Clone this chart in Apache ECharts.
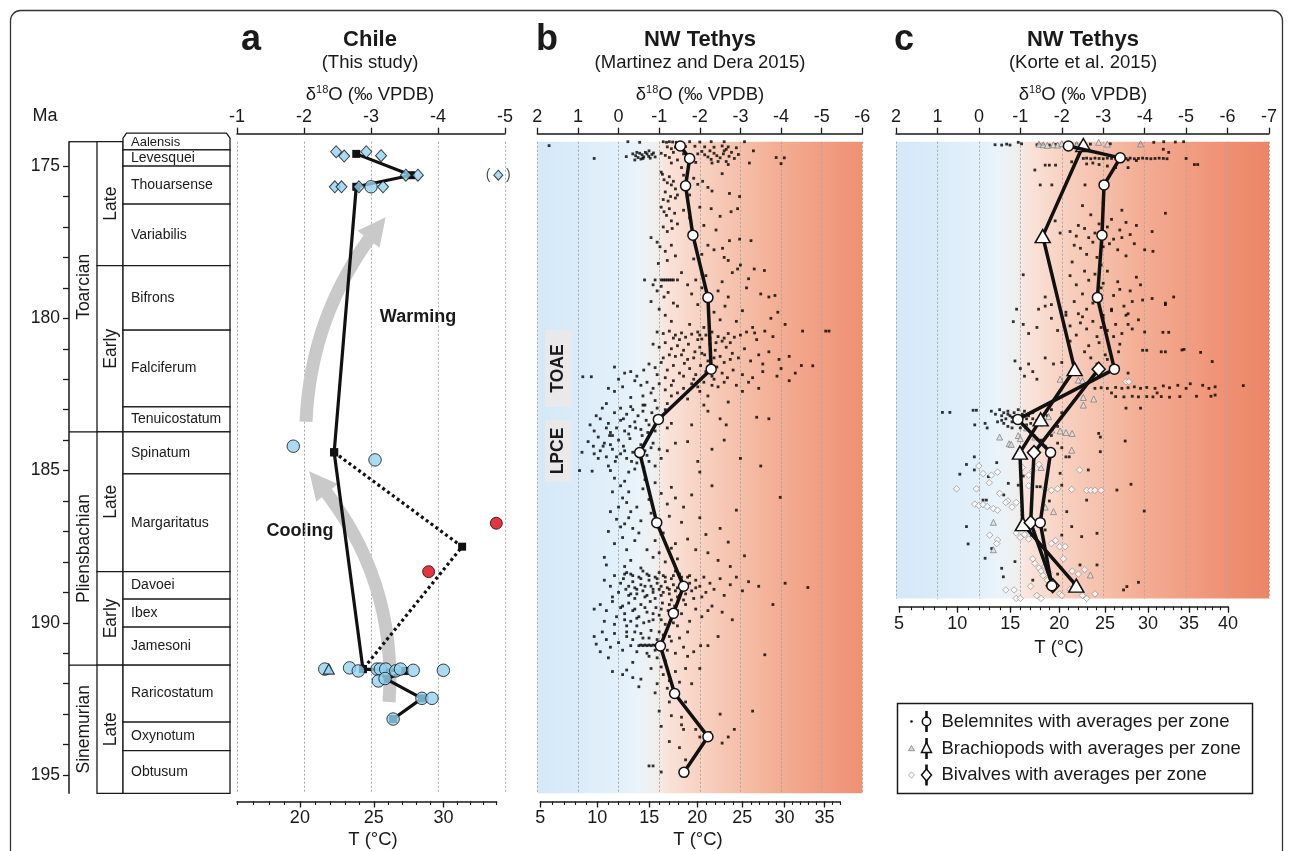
<!DOCTYPE html>
<html><head><meta charset="utf-8">
<script src="https://cdn.jsdelivr.net/npm/echarts@6/dist/echarts.min.js"></script>
<style>html,body{margin:0;padding:0;background:#fff}#c{width:1292px;height:851px}</style>
</head><body><div id="c"></div>
<script>
// ---------------- DATA ----------------
const maTicks = [175,176,177,178,179,180,181,182,183,184,185,186,187,188,189,190,191,192,193,194,195];
const maLabels = [175,180,185,190,195];
const stageNames = ['Toarcian','Pliensbachian','Sinemurian'];
const stageBounds = [174.2,183.73,191.39,195.6];
const substageNames = ['Late','Early','Late','Early','Late'];
const substageBounds = [174.2,178.27,183.73,188.32,191.39,195.6];
const zoneNames = ['Aalensis','Levesquei','Thouarsense','Variabilis','Bifrons','Falciferum','Tenuicostatum','Spinatum','Margaritatus','Davoei','Ibex','Jamesoni','Raricostatum','Oxynotum','Obtusum'];
const zoneBounds = [174.2,174.47,175.0,176.25,178.27,180.39,182.91,183.73,185.11,188.32,189.22,190.14,191.39,193.26,194.2,195.6];

const tLabelsA = [20,25,30]; const tRangeA = [16,34];
const tLabelsB = [5,10,15,20,25,30,35]; const tRangeB = [5,37];
const tLabelsC = [5,10,15,20,25,30,35,40]; const tRangeC = [5,40];

// Panel a (Chile)
const chileDiamonds = [[-2.48,174.53],[-2.6,174.67],[-2.93,174.53],[-3.15,174.66],[-3.52,175.3],[-3.7,175.3],[-2.46,175.68],[-2.56,175.68],[-2.82,175.68],[-3.18,175.68]];
const chileDiamondExcluded = [[-4.9,175.3]];
const chileCircles = [[-3.0,175.68],[-1.84,184.2],[-3.06,184.65],[-2.31,191.52],[-2.68,191.48],[-2.81,191.58],[-3.09,191.52],[-3.14,191.52],[-3.22,191.52],[-3.37,191.58],[-3.44,191.52],[-3.63,191.56],[-4.08,191.56],[-3.11,191.91],[-3.21,191.83],[-3.76,192.48],[-3.91,192.48],[-3.33,193.16]];
const chileTriangles = [[-2.37,191.52]];
const chileRed = [[-4.87,186.73],[-3.86,188.32]];
const chileAvg = [[-2.78,174.6],[-3.6,175.3],[-2.78,175.68],[-2.45,184.4],[-2.88,191.52],[-3.51,191.58],[-3.23,191.85],[-3.76,192.48],[-3.33,193.16]];
const chileAvgRed = [[-2.45,184.4],[-4.36,187.5],[-2.88,191.52]];
const coolingArrow = [[-3.27,192.6],[-2.21,185.38]];
const warmingArrow = [[-2.03,183.4],[-3.09,177.04]];

// Panel b (Martinez and Dera 2015)
const mdAvg = [[-1.52,174.34],[-1.75,174.75],[-1.65,175.65],[-1.83,177.27],[-2.2,179.32],[-2.28,181.67],[-0.98,183.32],[-0.52,184.41],[-0.94,186.71],[-1.6,188.8],[-1.35,189.69],[-1.03,190.76],[-1.38,192.32],[-2.2,193.74],[-1.61,194.91]];
const mdDots = [
[1.71,174.33],[-0.23,174.2],[-0.52,174.22],[-1.1,174.2],[-1.18,174.22],[-1.25,174.2],[-1.33,174.21],[-1.42,174.22],[-1.75,174.2],[-2.0,174.21],[-2.28,174.2],[-2.6,174.2],[-3.1,174.2],[-1.2,174.37],[-1.4,174.38],[-1.65,174.36],[-1.88,174.35],[-2.12,174.37],[-2.35,174.38],[-2.55,174.34],[-2.7,174.37],[-2.9,174.4],[-2.65,174.45],[-1.55,174.45],[-1.3,174.43],
[0.6,174.75],[-0.19,174.69],[-0.35,174.6],[-0.42,174.66],[-0.48,174.72],[-0.52,174.58],[-0.58,174.63],[-0.62,174.7],[-0.66,174.55],[-0.7,174.6],[-0.74,174.68],[-0.78,174.74],[-0.82,174.62],[-0.86,174.57],[-0.9,174.7],[-0.55,174.77],[-1.05,174.58],[-1.15,174.65],[-1.25,174.72],[-1.35,174.55],[-1.45,174.8],[-1.6,174.6],[-2.05,174.52],[-2.12,174.63],[-2.2,174.7],[-2.28,174.78],[-2.35,174.58],[-2.42,174.66],[-2.5,174.73],[-2.58,174.6],[-2.65,174.85],[-2.72,174.68],[-2.78,174.55],[-2.85,174.75],[-2.95,174.62],[-2.3,174.9],[-1.9,174.88],[-3.22,174.9],[-3.32,174.5],[-3.88,174.72],[-4.0,174.92],[-4.08,174.73],[-2.6,174.5],
[-0.45,174.55],[-0.6,174.75],[-0.75,174.5],[-0.4,174.8],[-1.95,174.6],[-2.25,174.5],[-2.45,174.85],[-2.7,174.95],[-1.3,174.9],[-1.55,175.05],
[-1.05,175.2],[-1.08,175.27],[-1.12,175.45],[-1.2,175.55],[-1.25,175.35],[-1.3,175.62],[-1.35,175.5],[-1.4,175.75],[-1.15,175.85],[-1.28,176.0],[-1.45,175.95],[-1.6,175.3],[-1.85,175.4],[-1.95,175.6],[-2.07,175.5],[-2.2,175.7],[-2.3,175.82],[-1.75,175.95],[-2.73,175.9],[-2.98,176.0],[-2.55,175.25],[-1.1,176.1],[-1.22,176.15],[-1.4,176.05],
[-1.05,176.35],[-1.12,176.5],[-1.18,176.62],[-1.25,176.4],[-1.3,176.8],[-1.38,176.55],[-1.45,176.9],[-1.1,177.0],[-1.2,177.15],[-1.32,177.05],[-0.8,177.35],[-0.95,177.5],[-1.02,177.65],[-1.15,177.8],[-1.3,177.6],[-1.4,177.95],[-1.2,178.1],[-0.98,178.2],[-1.6,176.45],[-1.75,176.7],[-2.0,176.35],[-2.1,176.95],[-2.28,176.4],[-2.4,177.1],[-2.2,177.6],[-2.05,177.9],[-2.35,177.75],[-1.85,178.05],[-2.77,176.5],[-2.93,176.4],[-2.98,177.4],[-3.26,177.45],[-2.56,177.7],[-2.73,177.45],[-2.6,178.0],[-2.7,178.1],[-3.0,178.25],[-2.5,176.65],
[-0.64,178.74],[-0.9,178.74],[-1.05,178.74],[-1.1,178.74],[-1.15,178.74],[-1.2,178.74],[-1.25,178.74],[-1.3,178.74],[-1.35,178.74],[-1.45,178.74],[-1.9,178.74],[-0.85,178.9],[-0.95,179.1],[-1.05,178.95],[-1.12,179.3],[-1.22,179.15],[-1.35,179.5],[-0.8,179.45],[-1.0,179.7],[-1.15,179.9],[-1.3,180.1],[-1.45,179.6],[-1.55,178.5],[-1.7,178.9],[-1.8,179.2],[-1.95,179.55],[-2.05,179.0],[-2.15,178.6],[-2.25,179.4],[-2.35,179.8],[-2.45,179.1],[-2.55,178.8],[-2.62,179.6],[-2.7,179.3],[-2.8,178.5],[-2.93,178.38],[-3.05,179.75],[-3.15,179.0],[-3.2,178.7],[-3.34,178.38],[-3.59,178.43],[-3.5,179.2],[-3.7,179.3],[-3.92,179.8],[-3.85,179.25],[-2.9,180.1],[-3.3,180.3],[-1.75,180.2],[-2.1,180.3],[-2.5,180.05],[-4.1,180.2],[-3.75,180.0],
[-0.95,180.45],[-1.1,180.5],[-1.25,180.42],[-1.4,180.55],[-1.55,180.48],[-1.65,180.62],[-1.8,180.52],[-1.95,180.45],[-2.05,180.68],[-2.15,180.55],[-2.3,180.45],[-2.45,180.6],[-2.55,180.75],[-2.7,180.5],[-2.85,180.62],[-3.0,180.55],[-3.15,180.45],[-3.35,180.48],[-3.6,180.42],[-3.8,180.6],[-4.53,180.42],[-5.1,180.42],[-5.18,180.42],
[-0.85,180.85],[-1.0,180.95],[-1.15,180.8],[-1.3,181.0],[-1.45,180.9],[-1.6,181.05],[-1.72,180.85],[-1.88,181.1],[-2.0,180.95],[-2.12,181.2],[-2.25,180.85],[-2.38,181.05],[-2.5,181.25],[-2.65,180.95],[-2.8,181.15],[-2.95,181.3],[-3.1,181.0],[-3.25,181.4],[-3.45,181.2],[-3.7,181.1],[-3.95,181.35],[-4.2,181.25],[-4.5,181.55],[-4.78,181.56],
[-0.75,181.5],[-0.9,181.62],[-1.05,181.45],[-1.2,181.7],[-1.35,181.55],[-1.5,181.8],[-1.62,181.48],[-1.75,181.65],[-1.9,181.85],[-2.02,181.55],[-2.15,181.75],[-2.3,181.9],[-2.42,181.6],[-2.55,181.8],[-2.68,181.95],[-2.82,181.7],[-3.05,181.85],[-3.3,181.95],[-3.55,181.75],[-3.9,181.9],[-4.2,182.05],
[-1.55,181.2],[-1.7,181.35],[-1.85,181.3],[-2.05,181.15],[-2.2,181.4],[-2.35,181.3],[-2.6,181.45],[-2.75,181.35],[-1.4,181.25],[-1.25,181.2],[-1.95,180.7],[-2.25,180.65],[-2.4,180.8],[-2.6,180.65],[-1.5,180.7],[-1.35,180.65],[-1.1,181.3],[-1.6,181.9],[-1.85,182.0],[-2.1,182.1],[-2.35,182.0],[-2.6,182.1],[-1.35,182.05],[-1.15,181.95],[-0.95,181.85],[-2.9,182.2],[-3.2,182.1],[-3.45,182.3],[-2.3,182.2],[-1.95,182.25],[-1.55,182.6],[-1.3,182.55],[-0.8,182.45],[-0.65,182.85],[-2.0,180.55],[-2.75,180.8],[-3.4,180.7],[-3.55,181.5],[-4.0,181.65],[-4.35,181.8],
[-0.4,182.05],[-0.55,182.2],[-0.7,182.1],[-0.85,182.3],[-1.0,182.15],[-1.15,182.35],[-1.3,182.2],[-1.45,182.45],[-1.6,182.3],[-1.8,182.15],[-2.0,182.4],[-2.2,182.55],[-2.45,182.25],[-3.05,182.4],[-2.7,182.75],[-0.6,182.55],[-0.3,182.6],[-0.9,182.7],[-1.2,182.8],[-1.7,182.65],[-2.1,182.85],[-0.1,182.25],[0.1,182.4],
[0.88,181.92],[0.67,181.92],[0.1,181.6],[0.0,182.0],[-0.15,181.8],[-0.3,181.75],[-0.45,181.9],[-0.62,181.7],[0.25,182.3],
[0.7,183.5],[0.55,183.2],[0.4,182.95],[0.25,183.45],[0.1,183.1],[0.05,183.6],[-0.05,182.95],[-0.12,183.3],[-0.2,183.15],[-0.28,183.55],[-0.35,183.0],[-0.4,183.4],[-0.48,183.2],[-0.55,183.65],[-0.6,183.05],[-0.68,183.35],[-0.75,183.5],[-0.82,183.1],[-0.9,183.7],[-1.05,183.25],[-1.15,183.0],[-1.3,183.45],[-0.15,183.7],[0.2,183.75],[-2.2,183.05],[-2.5,183.3],[-2.65,183.5],[-3.4,183.25],[-3.7,183.3],[-1.8,183.5],
[0.45,183.3],[0.3,183.6],[0.15,183.85],[-0.05,183.35],[-0.25,183.8],[-0.42,183.6],[-0.58,183.85],[-0.72,183.75],[-0.95,183.45],[0.6,183.7],[0.38,184.2],[0.2,184.15],[0.05,184.55],[-0.15,184.35],[-0.32,184.7],[-0.5,184.55],[-0.65,184.35],[-0.85,184.1],[-1.0,184.3],[0.5,184.6],[0.25,184.85],[-0.4,184.95],[-0.75,184.7],[0.9,184.4],[0.6,184.45],[-0.3,182.9],[-0.6,182.85],[0.3,182.8],[-0.95,182.95],[-1.2,183.6],
[0.75,184.05],[0.62,184.2],[0.5,183.9],[0.45,184.35],[0.35,184.1],[0.3,184.55],[0.22,183.85],[0.15,184.3],[0.08,184.7],[0.0,184.0],[-0.05,184.45],[-0.12,184.2],[-0.2,184.6],[-0.28,183.95],[-0.35,184.4],[-0.45,184.75],[-0.55,184.15],[-0.62,184.9],[-0.7,184.5],[-0.8,184.25],[-0.9,184.85],[-1.05,184.6],[-1.2,184.35],[-1.4,184.1],[0.96,185.0],[0.65,185.02],[-1.7,184.05],[-1.95,184.7],[-2.3,184.3],[-2.6,184.0],[-3.0,184.6],[-3.5,184.85],[-2.0,185.05],[0.2,185.0],[-0.25,185.05],
[0.1,185.25],[-0.05,185.5],[-0.15,185.35],[-0.25,185.7],[-0.1,185.9],[0.0,186.2],[-0.2,186.05],[-0.3,186.35],[0.05,186.6],[-0.15,186.75],[-0.25,186.55],[-0.35,186.9],[0.25,187.0],[-0.1,187.2],[-0.4,187.3],[-0.6,185.6],[-0.75,185.95],[-0.9,185.4],[-1.05,185.75],[-1.2,186.1],[-1.3,185.55],[-0.8,186.4],[-0.95,186.8],[-1.1,187.05],[-1.25,186.5],[-1.4,187.4],[-0.7,187.6],[-0.85,187.85],[-1.0,187.7],[-1.15,188.0],[-1.3,187.55],[-1.45,187.9],[-1.6,186.2],[-1.8,185.8],[-2.0,186.55],[-2.15,187.1],[-2.3,185.5],[-2.5,186.9],[-2.7,187.35],[-2.9,186.3],[-2.2,187.7],[-2.45,187.95],[-2.75,188.15],[-3.1,187.8],[-3.98,185.88],[0.35,187.85],[0.3,188.1],[-0.55,188.2],[-1.7,187.25],
[0.15,185.7],[0.2,186.35],[-0.05,186.85],[0.1,187.4],[-0.2,187.6],[-0.45,186.2],[-0.55,186.65],[-0.5,187.05],[-0.65,185.3],[-1.4,185.9],[-1.55,186.7],[-1.9,187.6],[-0.9,187.3],[-0.3,187.95],[-0.15,188.15],
[0.35,188.6],[0.2,188.8],[0.1,188.45],[0.0,189.0],[-0.05,188.7],[-0.12,188.55],[-0.18,188.9],[-0.25,189.1],[-0.3,188.4],[-0.35,188.65],[-0.4,188.85],[-0.45,189.05],[-0.5,188.5],[-0.55,188.75],[-0.6,188.95],[-0.65,189.15],[-0.7,188.4],[-0.75,188.6],[-0.8,188.8],[-0.85,189.0],[-0.9,188.5],[-0.95,188.7],[-1.0,188.9],[-1.05,189.1],[-1.1,188.45],[-1.15,188.65],[-1.2,188.85],[-1.25,189.05],[-1.3,188.55],[-1.35,188.75],[-1.4,188.95],[-1.45,189.15],[-1.5,188.4],[-1.55,188.6],[-1.6,188.85],[-1.65,189.05],[-1.7,188.5],[-1.75,188.7],[-1.8,188.95],[-1.85,189.2],[-1.9,188.6],[-2.0,188.8],[-2.1,188.5],[-2.15,189.0],[-2.25,188.7],[-2.35,188.9],[-2.5,188.55],[-2.6,189.1],[-2.75,188.75],[-2.9,188.5],[-3.05,188.95],[-3.2,188.65],[-3.45,188.8],[-4.1,188.7],[-4.66,188.84],[-0.2,188.35],[-0.6,188.3],[-1.0,188.35],[-1.4,188.3],[-0.4,189.2],[-0.9,189.2],[-1.3,189.25],[-2.05,189.15],[0.15,189.15],
[-0.15,188.4],[-0.35,188.45],[-0.55,188.55],[-0.75,188.45],[-0.95,188.55],[-1.15,188.5],[-1.35,188.45],[-1.55,188.5],[-1.75,188.45],[-0.25,188.8],[-0.45,188.9],[-0.65,188.8],[-0.85,188.9],[-1.05,188.8],[-1.25,188.9],[-1.45,188.85],[-1.65,188.9],[-0.3,189.05],[-0.7,189.1],[-1.1,189.0],[-1.5,189.1],[-1.9,188.85],
[0.45,189.4],[0.3,189.6],[0.15,189.3],[0.05,189.8],[-0.05,189.5],[-0.15,189.7],[-0.25,189.35],[-0.3,189.95],[-0.4,189.55],[-0.5,189.8],[-0.55,189.4],[-0.62,190.0],[-0.7,189.65],[-0.78,189.3],[-0.85,189.9],[-0.92,189.5],[-1.0,189.75],[-1.08,189.35],[-1.15,190.05],[-1.22,189.6],[-1.3,189.85],[-1.38,189.45],[-1.45,190.1],[-1.55,189.7],[-1.65,189.4],[-1.75,189.95],[-1.9,189.55],[-2.05,189.8],[-2.3,189.45],[-2.55,189.65],[-2.8,189.9],[-3.8,189.4],[0.6,189.55],[-0.2,190.1],[-0.45,190.1],
[-0.1,189.45],[-0.35,189.6],[-0.65,189.5],[-0.85,189.7],[-1.05,189.55],[-1.25,189.4],[-1.45,189.6],[-0.15,189.9],[-0.45,189.85],[-0.75,189.95],[-1.05,189.9],[-1.35,190.0],[0.1,190.05],[-1.6,189.25],[-2.2,189.6],[0.35,189.95],
[0.6,190.45],[0.55,190.7],[0.4,190.3],[0.3,190.55],[0.2,190.8],[0.1,190.35],[0.0,190.65],[-0.1,190.9],[-0.2,190.45],[-0.3,190.75],[-0.5,190.75],[-0.55,190.73],[-0.6,190.75],[-0.65,190.73],[-0.7,190.75],[-0.75,190.73],[-0.8,190.75],[-0.85,190.73],[-0.9,190.74],[-0.95,190.75],[-1.05,190.74],[-0.4,190.3],[-0.6,190.5],[-0.8,190.25],[-0.95,190.55],[-1.1,190.4],[-1.2,190.9],[-1.3,190.6],[-1.4,191.0],[-1.5,190.5],[-1.6,190.8],[-1.7,191.1],[-1.85,190.95],[-2.02,190.75],[-2.2,190.75],[-2.45,190.45],[-3.6,191.05],[-0.95,191.15],[-1.15,191.25],[-0.75,191.1],[-0.35,191.3],
[-0.35,190.55],[-0.55,190.35],[-0.75,190.5],[-1.0,190.3],[-1.25,190.45],[-0.45,190.95],[-0.7,191.0],[-0.9,190.9],[0.45,190.95],[0.25,191.15],[-1.7,190.3],[-0.2,190.3],
[0.15,191.6],[-0.1,191.7],[-0.2,191.55],[-0.35,191.8],[-0.55,191.85],[-0.5,192.1],[-0.8,191.5],[-0.95,192.0],[-1.05,191.45],[-1.1,191.7],[-1.25,191.9],[-1.2,192.15],[-1.4,191.6],[-1.5,191.95],[-1.65,191.5],[-1.8,192.0],[-2.0,191.5],[-0.9,192.3],[-1.0,192.9],[-1.3,193.05],[-1.55,193.1],[-1.65,192.6],[-2.5,193.0],[-3.3,192.9],[-1.25,192.6],
[-1.05,193.4],[-1.55,193.35],[-1.9,193.5],[-2.0,193.75],[-2.25,193.6],[-2.55,193.95],[-2.7,193.75],[-1.25,193.9],[-1.6,193.5],[-1.5,194.1],[-1.65,194.5],[-0.75,194.7],[-0.85,194.7],[-1.05,194.9],[-2.85,193.5]
];

// Panel c (Korte et al. 2015)
const kBelAvg = [[-2.16,174.34],[-3.41,174.73],[-3.02,175.62],[-2.97,177.27],[-2.86,179.32],[-3.27,181.67],[-0.94,183.32],[-1.73,184.41],[-1.48,186.71],[-1.76,188.78]];
const kBraAvg = [[-2.52,174.31],[-1.54,177.3],[-2.31,181.67],[-1.49,183.32],[-0.99,184.41],[-1.06,186.76],[-2.35,188.78]];
const kBivAvg = [[-2.89,181.67],[-1.33,184.41],[-1.25,186.71],[-1.78,188.78]];
const kBel = [
[-0.39,174.3],[-0.55,174.31],[-0.67,174.28],[-0.75,174.31],[-1.03,174.27],[-1.4,174.3],[-1.45,174.28],[-1.55,174.3],[-1.7,174.31],[-1.85,174.29],[-2.08,174.3],[-2.36,174.28],[-2.45,174.31],[-2.69,174.28],[-3.17,174.27],[-3.9,174.28],[-4.22,174.22],[-4.46,174.2],[-4.74,174.21],[-4.94,174.2],[-0.95,174.22],[-4.45,174.45],[-4.58,174.55],
[-2.52,174.75],[-2.6,174.74],[-2.7,174.76],[-2.8,174.74],[-2.9,174.75],[-3.0,174.76],[-3.1,174.74],[-3.2,174.75],[-3.3,174.76],[-3.45,174.74],[-3.55,174.75],[-3.65,174.74],[-3.75,174.76],[-3.85,174.75],[-3.95,174.74],[-4.05,174.75],[-4.15,174.76],[-4.25,174.75],[-4.35,174.74],[-4.45,174.75],[-4.54,174.76],[-3.6,174.8],[-3.8,174.82],[-5.0,174.75],[-5.2,174.95],[-5.28,174.95],[-1.6,174.97],[-1.7,174.97],[-1.85,174.97],[-2.24,174.86],[-2.6,174.93],[-2.75,174.9],[-2.9,174.95],[-3.1,175.0],[-3.3,175.05],[-3.6,175.05],[-1.35,175.13],
[-1.48,175.62],[-1.76,175.62],[-2.56,175.62],
[-1.84,176.8],[-1.96,177.2],[-2.2,177.15],[-2.4,176.95],[-2.55,177.05],[-2.65,177.35],[-2.75,177.5],[-2.9,176.9],[-3.1,177.0],[-3.25,177.4],[-3.4,177.1],[-3.55,176.85],[-3.65,177.25],[-3.75,177.55],[-2.45,177.7],[-2.6,177.9],[-2.85,178.0],[-3.35,177.75],[-4.0,177.75],[-4.2,177.8],[-4.5,176.55],[-4.18,177.15],[-2.3,177.6],[-3.0,177.65],[-3.55,177.95],[-2.25,178.15],[-2.95,178.25],
[-2.5,176.3],[-2.7,176.6],[-3.0,176.2],[-3.2,176.75],[-3.45,176.45],[-3.8,176.95],[-2.35,177.3],[-2.8,177.2],[-3.15,177.55],[-3.45,177.35],
[-1.07,178.57],[-0.91,179.7],[-1.44,179.7],[-1.6,179.3],[-1.75,179.55],[-2.2,178.6],[-2.35,178.9],[-2.5,179.2],[-2.65,178.75],[-2.75,179.5],[-2.95,179.0],[-3.1,178.45],[-3.25,179.25],[-3.35,178.8],[-3.5,179.6],[-3.65,179.1],[-3.8,178.65],[-3.95,179.4],[-3.2,179.75],[-2.4,179.85],[-4.18,179.35],[-4.5,179.55],[-4.7,179.3],[-2.1,179.9],[-3.0,179.9],[-3.6,179.85],
[-2.55,178.45],[-2.8,178.55],[-3.0,178.85],[-3.4,179.05],[-3.7,179.45],[-2.6,179.7],[-2.3,179.45],[-3.9,178.9],
[-0.83,180.11],[-1.07,180.2],[-1.2,180.5],[-1.4,180.3],[-1.6,179.6],[-1.75,180.0],[-1.9,180.4],[-2.1,179.8],[-2.2,180.25],[-2.35,180.55],[-2.5,179.95],[-2.6,180.35],[-2.75,180.1],[-2.85,180.6],[-3.0,180.0],[-3.1,180.4],[-3.2,179.7],[-3.3,180.2],[-3.45,180.5],[-3.55,179.9],[-3.7,180.35],[-3.85,180.05],[-4.0,180.45],[-4.44,180.46],[-4.58,180.46],[-4.5,179.5],[-2.9,180.8],[-3.4,180.85],[-2.2,180.75],
[-2.45,180.15],[-2.95,180.3],[-3.25,180.6],[-3.6,180.2],[-2.65,180.9],[-3.1,181.35],
[-0.87,181.4],[-1.0,181.65],[-1.1,181.9],[-1.2,181.5],[-1.3,181.75],[-1.4,182.0],[-1.6,181.3],[-1.8,181.5],[-2.0,181.45],[-2.55,181.1],[-2.7,181.3],[-2.85,181.5],[-3.05,181.2],[-3.37,181.1],[-3.95,181.05],[-4.05,181.05],[-4.4,181.1],[-4.5,181.1],[-4.9,181.04],[-4.95,181.02],[-5.35,181.12],[-5.63,181.42],[-2.35,181.85],[-3.2,181.6],[-3.6,181.8],
[-2.8,182.3],[-2.95,182.28],[-3.1,182.3],[-3.3,182.27],[-3.45,182.3],[-3.6,182.28],[-3.75,182.25],[-3.9,182.3],[-4.05,182.27],[-4.25,182.3],[-4.45,182.22],[-4.6,182.28],[-4.8,182.2],[-5.0,182.3],[-5.1,182.15],[-5.4,182.2],[-5.55,182.3],[-5.7,182.25],
[-3.3,182.57],[-3.5,182.58],[-3.7,182.56],[-3.85,182.58],[-4.05,182.57],[-4.2,182.58],[-4.4,182.57],[-4.6,182.59],[-4.85,182.57],[-5.25,182.56],[-5.6,182.56],[-5.7,182.52],[-6.38,182.21],[-3.2,182.45],[-4.3,182.45],[-3.55,182.95],[-3.9,182.95],
[0.88,183.09],[0.7,183.09],[0.14,183.02],[0.06,183.02],[0.1,183.5],[-0.3,183.05],[-0.4,183.15],[-0.5,183.0],[-0.55,183.2],[-0.6,183.1],[-0.65,183.3],[-0.7,183.05],[-0.75,183.2],[-0.8,183.4],[-0.85,183.1],[-0.9,183.25],[-0.95,183.0],[-1.0,183.35],[-1.05,183.15],[-1.1,183.05],[-1.15,183.3],[-1.2,183.2],[-1.25,183.45],[-1.3,183.1],[-1.4,183.35],[-1.5,183.5],[-0.6,183.45],[-0.7,183.55],[-0.45,183.4],[-0.8,183.6],[-1.0,183.6],[-0.15,183.45],[-0.2,183.6],[-1.65,183.2],[-1.75,183.0],[-2.0,183.1],[-1.9,183.55],
[-0.8,183.25],[-0.95,183.45],[-1.15,183.5],[-0.55,183.35],[-0.7,183.15],[-1.3,183.3],
[-1.5,184.0],[-1.6,184.2],[-1.75,183.85],[-1.9,184.1],[-2.0,184.25],[-2.1,184.55],[-2.18,184.55],[-2.89,183.78],[-2.93,183.9],[-2.93,184.38],[-3.53,184.03],[-1.3,184.3],
[0.46,185.12],[0.11,184.55],[0.11,184.98],[-0.1,185.97],[-0.18,185.97],[-0.23,185.2],[-0.43,184.74],[-0.71,185.42],[-0.95,185.48],[-1.07,185.18],[-1.4,185.53],[-1.48,185.53],[-1.96,185.09],[-2.0,185.48],[-2.12,186.35],[-2.6,185.97],[-2.64,184.98],[-3.33,185.64],[-3.67,185.45],[-3.99,186.33],[0.3,184.8],[-0.6,185.8],[-1.7,186.0],
[0.3,186.84],[0.26,187.41],[-0.15,187.88],[-0.31,187.56],[-0.55,188.21],[-0.59,188.49],[-0.87,187.99],[-1.27,187.12],[-1.6,186.95],[-2.0,187.12],[-2.24,186.84],[-2.48,187.17],[-2.85,187.06],[-2.85,188.1],[-2.44,188.1],[-2.28,188.7],[-3.49,188.92],[-3.57,188.81],[-3.85,188.67],[-1.9,188.4],[-1.3,188.6]
];
const kBra = [[-1.45,174.28],[-1.55,174.3],[-1.65,174.32],[-1.8,174.3],[-1.9,174.31],[-2.36,174.29],[-2.89,174.22],[-3.1,174.28],[-3.9,174.27],[-2.0,174.26],
[-1.96,182.0],[-2.4,182.03],[-2.5,182.05],[-2.52,182.6],[-2.77,182.65],[-2.52,182.85],[-1.68,183.23],[-1.76,183.67],[-1.96,183.7],[-2.1,183.75],[-2.25,183.78],[-2.24,184.33],[-0.5,183.9],[-0.73,184.12],[-0.78,184.14],[-0.95,183.85],[-1.0,183.95],[-1.15,183.6],[-1.35,183.9],[-1.8,186.35],[-0.35,186.7],[-0.35,187.6],[-2.69,188.43],[-1.5,184.9],[-1.6,186.2]];
const kBiv = [[-3.55,182.08],[-3.62,182.08],[0.54,185.6],[0.06,185.6],[0.0,184.85],[-0.1,185.1],[-0.3,185.15],[-0.45,185.05],[-0.25,185.4],[0.1,186.1],[0.0,186.15],[-0.1,186.12],[-0.2,186.18],[-0.35,186.25],[-0.45,186.3],[-0.7,186.0],[-0.8,186.2],[-0.9,186.05],[-1.05,184.9],[-1.2,185.15],[-1.3,185.0],[-1.45,184.8],[-1.6,185.6],[-1.75,185.65],[-1.9,185.6],[-2.24,185.62],[-2.43,184.98],[-2.6,185.65],[-2.7,185.65],[-2.8,185.65],[-2.95,185.65],[-1.2,185.5],[-0.5,185.75],[-0.65,186.05],
[-0.26,187.12],[-0.45,187.28],[-0.43,187.4],[-0.9,187.05],[-1.0,187.2],[-1.1,187.1],[-1.2,187.25],[-1.3,187.0],[-1.35,188.05],[-1.45,188.2],[-1.5,188.3],[-1.55,188.45],[-1.6,188.15],[-1.7,188.35],[-1.75,187.4],[-1.85,187.3],[-1.95,187.5],[-2.04,187.9],[-2.08,187.5],[-2.25,188.3],[-2.4,188.4],[-2.55,188.25],[-0.65,188.92],[-0.85,188.92],[-0.9,189.2],[-1.0,189.2],[-1.25,188.8],[-1.4,189.1],[-1.5,189.2],[-1.95,189.05],[-2.0,189.1],[-2.5,189.1],[-2.6,189.2],[-2.8,189.05],[-1.3,187.9],[-1.65,188.6],[-2.2,188.9]];

// ---------------- LAYOUT / STYLE ----------------
const FONT = "'Liberation Sans', Arial, Helvetica, sans-serif";
const INK = '#1a1a1a';
const MA_MIN = 174.2, MA_MAX = 195.6, MA_MAX_C = 189.2, PXMA = 30.45, TOP = 141.7;
const H = (MA_MAX - MA_MIN) * PXMA, HC = (MA_MAX_C - MA_MIN) * PXMA;
const T_of_d = d => 16 - 4.14 * (d + 1) + 0.13 * (d + 1) * (d + 1);
const d_of_T = T => (4.14 - Math.sqrt(4.14 * 4.14 - 0.52 * (16 - T))) / 0.26 - 1;

const bgStops = [[2,'#d3e8f8'],[0,'#e2f0fa'],[-0.5,'#eaf3fa'],[-0.9,'#efefef'],[-1.2,'#f9e3da'],[-2,'#f8d2c2'],[-3,'#f5bfaa'],[-4,'#f3ac92'],[-6,'#ef9073'],[-7,'#ec8566']];
function grad(dMax, dMin) {
  return {type:'linear', x:0, y:0, x2:1, y2:0,
    colorStops: bgStops.filter(s => s[0] <= dMax && s[0] >= dMin).map(s => ({offset:(dMax - s[0]) / (dMax - dMin), color:s[1]}))};
}
const P = {
  a:{left:237, width:268, dMax:-1, dMin:-5, tR:tRangeA, tL:tLabelsA, tTop:801.5, h:H, max:MA_MAX},
  b:{left:537.3, width:325, dMax:2, dMin:-6, tR:tRangeB, tL:tLabelsB, tTop:801.5, h:H, max:MA_MAX},
  c:{left:896, width:373, dMax:2, dMin:-7, tR:tRangeC, tL:tLabelsC, tTop:606.7, h:HC, max:MA_MAX_C}
};

const grids = [
  {left:69, top:TOP, width:161, height:H},
  {left:P.a.left, top:TOP, width:P.a.width, height:H},
  {left:P.b.left, top:TOP, width:P.b.width, height:H, show:true, backgroundColor:grad(2,-6), borderWidth:0},
  {left:P.c.left, top:TOP, width:P.c.width, height:HC, show:true, backgroundColor:grad(2,-7), borderWidth:0}
];
const xAxes = [{gridIndex:0, type:'value', min:0, max:161, show:false}];
const yAxes = [{gridIndex:0, type:'value', min:MA_MIN, max:MA_MAX, inverse:true, position:'left',
  axisLine:{show:true, lineStyle:{color:INK, width:1.5}},
  axisTick:{show:true, length:6, customValues:maTicks, lineStyle:{color:INK, width:1.3}},
  axisLabel:{show:true, customValues:maLabels, fontSize:17.5, fontFamily:FONT, color:INK, margin:9},
  splitLine:{show:false}}];
['a','b','c'].forEach((k, i) => {
  const p = P[k], gi = i + 1;
  xAxes.push({gridIndex:gi, type:'value', position:'top', offset:8, min:p.dMin, max:p.dMax, interval:1, inverse:true,
    axisLine:{show:true, onZero:false, lineStyle:{color:INK, width:1.5}},
    axisTick:{show:true, length:6, lineStyle:{color:INK, width:1.3}},
    axisLabel:{fontSize:18, fontFamily:FONT, color:INK, margin:8, showMinLabel:true, showMaxLabel:true},
    splitLine:{show:true, lineStyle:{color:'#a8a8a8', width:1, type:[2,2]}}});
  yAxes.push({gridIndex:gi, type:'value', min:MA_MIN, max:p.max, inverse:true, show:false, splitLine:{show:false}});
});
['a','b','c'].forEach((k, i) => {
  const p = P[k];
  const lo = d_of_T(p.tR[1]), hi = d_of_T(p.tR[0]);
  const pxPer = p.width / (p.dMax - p.dMin);
  const gl = p.left + (p.dMax - hi) * pxPer, gr = p.left + (p.dMax - lo) * pxPer;
  grids.push({left:gl, width:gr - gl, top:p.tTop - 6, height:6});
  const gi = grids.length - 1;
  const minors = []; for (let t = p.tR[0]; t <= p.tR[1]; t++) minors.push(d_of_T(t));
  const majors = p.tL.map(d_of_T);
  xAxes.push({gridIndex:gi, type:'value', position:'bottom', min:lo, max:hi, inverse:true,
    axisLine:{show:true, onZero:false, lineStyle:{color:INK, width:1.5}},
    axisTick:{show:true, length:6, customValues:majors, lineStyle:{color:INK, width:1.3}},
    axisLabel:{show:true, customValues:majors, formatter:v => String(Math.round(T_of_d(v))), fontSize:18, fontFamily:FONT, color:INK, margin:8, showMinLabel:true, showMaxLabel:true},
    splitLine:{show:false}});
  xAxes.push({gridIndex:gi, type:'value', position:'bottom', min:lo, max:hi, inverse:true,
    axisLine:{show:false}, axisLabel:{show:false}, splitLine:{show:false},
    axisTick:{show:true, length:3.5, customValues:minors, lineStyle:{color:INK, width:1.1}}});
  yAxes.push({gridIndex:gi, type:'value', min:0, max:1, show:false, splitLine:{show:false}});
});

// stratigraphic column
const stratData = [];
stageNames.forEach((n, i) => stratData.push([0, stageBounds[i], stageBounds[i + 1], i]));
substageNames.forEach((n, i) => stratData.push([1, substageBounds[i], substageBounds[i + 1], i]));
zoneNames.forEach((n, i) => stratData.push([2, zoneBounds[i], zoneBounds[i + 1], i]));
const COLS = [[0, 28], [28, 54], [54, 161]];
function renderStrat(params, api) {
  const kind = api.value(0), top = api.value(1), bot = api.value(2), idx = api.value(3);
  const [xa, xb] = COLS[kind];
  const p0 = api.coord([xa, top]), p1 = api.coord([xb, bot]);
  const st = {stroke:INK, lineWidth:1.3, fill:'#fff'};
  const ch = [];
  const cx = (p0[0] + p1[0]) / 2, cy = (p0[1] + p1[1]) / 2;
  if (kind === 0) {
    ch.push({type:'line', shape:{x1:p0[0], y1:p0[1], x2:p1[0], y2:p0[1]}, style:{stroke:INK, lineWidth:1.3}});
    ch.push({type:'text', x:cx + 1, y:cy, rotation:Math.PI / 2, style:{text:stageNames[idx], fontSize:17.5, fontFamily:FONT, fill:INK, align:'center', verticalAlign:'middle'}});
  } else if (kind === 1) {
    ch.push({type:'rect', shape:{x:p0[0], y:p0[1], width:p1[0] - p0[0], height:p1[1] - p0[1]}, style:st});
    ch.push({type:'text', x:cx + 1, y:cy, rotation:Math.PI / 2, style:{text:substageNames[idx], fontSize:17.5, fontFamily:FONT, fill:INK, align:'center', verticalAlign:'middle'}});
  } else {
    if (idx === 0) {
      ch.push({type:'polygon', shape:{points:[[p0[0], p1[1]], [p0[0], p0[1] - 3.5], [p0[0] + 3.5, p0[1] - 8.5], [p1[0] - 3.5, p0[1] - 8.5], [p1[0], p0[1] - 3.5], [p1[0], p1[1]]]}, style:st});
      ch.push({type:'text', x:p0[0] + 8, y:(p0[1] - 8.5 + p1[1]) / 2 + 0.5, style:{text:zoneNames[idx], fontSize:13, fontFamily:FONT, fill:INK, align:'left', verticalAlign:'middle'}});
    } else {
      ch.push({type:'rect', shape:{x:p0[0], y:p0[1], width:p1[0] - p0[0], height:p1[1] - p0[1]}, style:st});
      ch.push({type:'text', x:p0[0] + 8, y:cy, style:{text:zoneNames[idx], fontSize:14, fontFamily:FONT, fill:INK, align:'left', verticalAlign:'middle'}});
    }
  }
  return {type:'group', children:ch};
}

const BLUE = '#93d3f1';
const series = [
  {type:'custom', xAxisIndex:0, yAxisIndex:0, data:stratData, renderItem:renderStrat, clip:false, silent:true, z:2},
  {type:'lines', coordinateSystem:'cartesian2d', xAxisIndex:1, yAxisIndex:1, z:1, silent:true,
    symbol:['none','triangle'], symbolSize:28,
    lineStyle:{color:'#c9c9c9', width:13, opacity:1, cap:'butt'},
    data:[{coords:coolingArrow, lineStyle:{curveness:-0.2}}, {coords:warmingArrow, lineStyle:{curveness:0.16}}]},
  {type:'line', xAxisIndex:1, yAxisIndex:1, data:chileAvgRed, symbol:'rect', symbolSize:8, z:3,
    itemStyle:{color:'#111'}, lineStyle:{color:'#111', width:3.2, type:[3,3]}},
  {type:'line', xAxisIndex:1, yAxisIndex:1, data:chileAvg, symbol:'rect', symbolSize:8, z:3,
    itemStyle:{color:'#111'}, lineStyle:{color:'#111', width:3.2}},
  {type:'scatter', xAxisIndex:1, yAxisIndex:1, data:chileDiamonds, symbol:'diamond', symbolSize:[11,12], z:4,
    itemStyle:{color:BLUE, borderColor:'#111', borderWidth:1}},
  {type:'scatter', xAxisIndex:1, yAxisIndex:1, data:chileDiamondExcluded, symbol:'diamond', symbolSize:[9,10], z:4,
    itemStyle:{color:BLUE, borderColor:'#111', borderWidth:1},
    label:{show:true, position:'inside', formatter:'(    )', fontSize:14, fontFamily:FONT, color:INK}},
  {type:'scatter', xAxisIndex:1, yAxisIndex:1, data:chileCircles, symbol:'circle', symbolSize:12.5, z:4,
    itemStyle:{color:BLUE, borderColor:'#111', borderWidth:1}},
  {type:'scatter', xAxisIndex:1, yAxisIndex:1, data:chileTriangles, symbol:'triangle', symbolSize:[11,10], z:5,
    itemStyle:{color:BLUE, borderColor:'#111', borderWidth:1.2}},
  {type:'scatter', xAxisIndex:1, yAxisIndex:1, data:chileRed, symbol:'circle', symbolSize:12, z:4,
    itemStyle:{color:'#e2000e', borderColor:'#111', borderWidth:1}},
  {type:'scatter', xAxisIndex:2, yAxisIndex:2, data:mdDots, symbol:'rect', symbolSize:2.8, z:2,
    itemStyle:{color:'#000'}},
  {type:'line', xAxisIndex:2, yAxisIndex:2, data:mdAvg, symbol:'circle', symbolSize:10, showAllSymbol:true, z:4,
    itemStyle:{color:'#fff', borderColor:'#111', borderWidth:1.5}, lineStyle:{color:'#111', width:3.5}},
  {type:'scatter', xAxisIndex:3, yAxisIndex:3, data:kBel, symbol:'rect', symbolSize:2.8, z:2, itemStyle:{color:'#000'}},
  {type:'scatter', xAxisIndex:3, yAxisIndex:3, data:kBra, symbol:'triangle', symbolSize:6, z:2,
    itemStyle:{color:'#dcdcdc', borderColor:'#6e6e6e', borderWidth:0.8}},
  {type:'scatter', xAxisIndex:3, yAxisIndex:3, data:kBiv, symbol:'diamond', symbolSize:6.5, z:2,
    itemStyle:{color:'#fafafa', borderColor:'#888', borderWidth:0.8}},
  {type:'line', xAxisIndex:3, yAxisIndex:3, data:kBraAvg, symbol:'triangle', symbolSize:[15,13], showAllSymbol:true, z:4,
    itemStyle:{color:'#fff', borderColor:'#111', borderWidth:1.5}, lineStyle:{color:'#111', width:3.5}},
  {type:'line', xAxisIndex:3, yAxisIndex:3, data:kBivAvg, symbol:'diamond', symbolSize:[13,14], showAllSymbol:true, z:4,
    itemStyle:{color:'#fff', borderColor:'#111', borderWidth:1.5}, lineStyle:{color:'#111', width:3.5}},
  {type:'line', xAxisIndex:3, yAxisIndex:3, data:kBelAvg, symbol:'circle', symbolSize:10, showAllSymbol:true, z:5,
    itemStyle:{color:'#fff', borderColor:'#111', borderWidth:1.5}, lineStyle:{color:'#111', width:3.5}}
];
series.forEach(s => { if (s.type === 'line') { s.smooth = false; s.animation = false; } });

// ---------------- ANNOTATIONS ----------------
function txt(x, y, text, size, bold, extra) {
  return Object.assign({type:'text', x, y, silent:true, style:{text, fontSize:size, fontWeight:bold ? 'bold' : 'normal', fontFamily:FONT, fill:INK, align:'center', verticalAlign:'middle'}}, extra || {});
}
const dRich = {rich:{s:{fontSize:11, fontFamily:FONT, fill:INK, verticalAlign:'top', lineHeight:10}, n:{fontSize:18.5, fontFamily:FONT, fill:INK, lineHeight:22}}};
function dLabel(x) {
  return {type:'text', x, y:95, silent:true, style:Object.assign({text:'{n|δ}{s|18}{n|O (‰ VPDB)}', align:'center', verticalAlign:'middle'}, dRich)};
}
const legendRows = [[721.5,'Belemnites with averages per zone'],[748.5,'Brachiopods with averages per zone'],[775,'Bivalves with averages per zone']];
const graphic = [
  {type:'rect', silent:true, shape:{x:10.5, y:10.5, width:1272, height:900, r:10}, style:{fill:'none', stroke:'#333', lineWidth:1.3}},
  txt(45, 116, 'Ma', 18, false),
  txt(251, 40, 'a', 36, true), txt(547, 40, 'b', 36, true), txt(904, 40, 'c', 36, true),
  txt(370, 40, 'Chile', 22, true), txt(700, 40, 'NW Tethys', 22, true), txt(1083, 40, 'NW Tethys', 22, true),
  txt(370, 63, '(This study)', 18.5, false), txt(700, 63, '(Martinez and Dera 2015)', 18.5, false), txt(1083, 63, '(Korte et al. 2015)', 18.5, false),
  dLabel(370), dLabel(700), dLabel(1083),
  txt(373, 840, 'T (°C)', 18.5, false), txt(698, 840, 'T (°C)', 18.5, false), txt(1059, 648, 'T (°C)', 18.5, false),
  txt(300, 531, 'Cooling', 18, true), txt(418, 317, 'Warming', 18, true),
  {type:'rect', silent:true, shape:{x:545, y:330, width:26.5, height:77}, style:{fill:'#e9e9e9'}},
  {type:'rect', silent:true, shape:{x:545, y:420, width:26.5, height:62}, style:{fill:'#e9e9e9'}},
  txt(558.5, 368.5, 'TOAE', 17.5, true, {rotation:Math.PI / 2}),
  txt(558.5, 451, 'LPCE', 17.5, true, {rotation:Math.PI / 2}),
  {type:'rect', silent:true, shape:{x:897.5, y:703.5, width:355, height:90}, style:{fill:'#fff', stroke:INK, lineWidth:1.5}}
];
legendRows.forEach((r, i) => {
  const y = r[0];
  if (i === 0) graphic.push({type:'circle', silent:true, shape:{cx:911.5, cy:y, r:1.3}, style:{fill:'#111'}});
  if (i === 1) graphic.push({type:'polygon', silent:true, shape:{points:[[911.5, y - 3], [914.5, y + 2.2], [908.5, y + 2.2]]}, style:{fill:'#dcdcdc', stroke:'#777', lineWidth:0.8}});
  if (i === 2) graphic.push({type:'polygon', silent:true, shape:{points:[[911.5, y - 3.2], [914.5, y], [911.5, y + 3.2], [908.5, y]]}, style:{fill:'#fff', stroke:'#999', lineWidth:0.8}});
  graphic.push({type:'line', silent:true, shape:{x1:926.5, y1:y - 10.5, x2:926.5, y2:y + 10.5}, style:{stroke:'#111', lineWidth:2.6}});
  if (i === 0) graphic.push({type:'circle', silent:true, shape:{cx:926.5, cy:y, r:4.2}, style:{fill:'#fff', stroke:'#111', lineWidth:1.5}});
  if (i === 1) graphic.push({type:'polygon', silent:true, shape:{points:[[926.5, y - 6], [931.5, y + 4], [921.5, y + 4]]}, style:{fill:'#fff', stroke:'#111', lineWidth:1.5}});
  if (i === 2) graphic.push({type:'polygon', silent:true, shape:{points:[[926.5, y - 6], [931.5, y], [926.5, y + 6], [921.5, y]]}, style:{fill:'#fff', stroke:'#111', lineWidth:1.5}});
  graphic.push({type:'text', x:941.5, y, silent:true, style:{text:r[1], fontSize:18.5, fontFamily:FONT, fill:INK, align:'left', verticalAlign:'middle'}});
});

grids.forEach(g => { g.containLabel = false; g.outerBoundsMode = 'none'; if (!g.show) { g.show = false; } });

const chart = echarts.init(document.getElementById('c'), null, {renderer:'canvas', width:1292, height:851});
chart.setOption({
  animation:false,
  backgroundColor:'#fff',
  textStyle:{fontFamily:FONT},
  grid:grids, xAxis:xAxes, yAxis:yAxes, series, graphic
});
</script>
</body></html>
